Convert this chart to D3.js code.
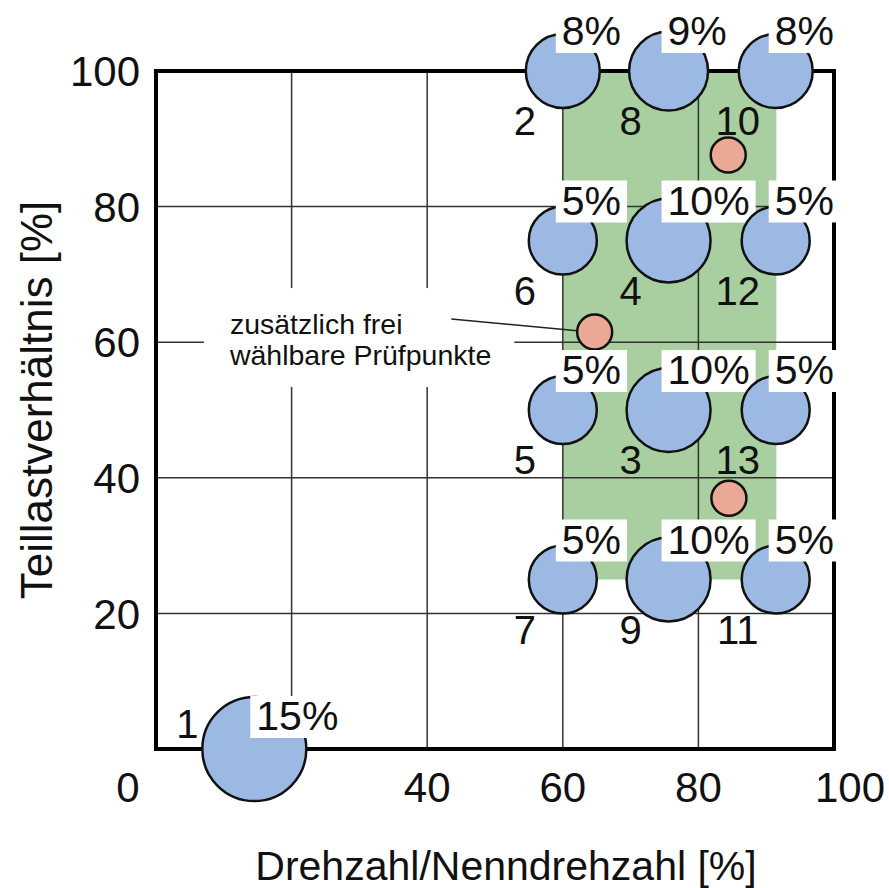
<!DOCTYPE html>
<html>
  <head>
    <meta http-equiv="Content-type" content="text/html; charset=utf-8">
    <title>ESC Prüfzyklus</title>
    <script src="https://d3js.org/d3.v7.min.js"></script>
    <style>
      body { margin: 0; background: #fff; }
      svg text { font-family: "Liberation Sans", Arial, sans-serif; fill: #111; }
    </style>
  </head>
  <body>
    <div id="chart"></div>
    <script type="text/javascript">
      // test modes (ESC): speed in % of rated speed, load in %, weighting in %
      var modes   = [1, 2, 3, 4, 5, 6, 7, 8, 9, 10, 11, 12, 13];
      var speeds  = [14.5, 60, 75.6, 75.6, 60, 60, 60, 75.6, 75.6, 91.4, 91.4, 91.4, 91.4];
      var loads   = [0, 100, 50, 75, 50, 75, 25, 100, 25, 100, 25, 75, 50];
      var weights = [15, 8, 10, 10, 5, 5, 5, 9, 10, 8, 5, 5, 5];

      // extra freely selectable test points
      var extraSpeeds = [64.7, 84.4, 84.5];
      var extraLoads  = [61.5, 87.6, 37.0];

      // control area
      var areaSpeeds = [60, 91.5];
      var areaLoads  = [25, 100];

      var gridTicks  = [20, 40, 60, 80];
      var xTickVals  = [0, 40, 60, 80, 100];
      var yTickVals  = [20, 40, 60, 80, 100];

      var width = 889, height = 888;

      var x = d3.scaleLinear().domain([0, 100]).range([156, 834]);
      var y = d3.scaleLinear().domain([0, 100]).range([749, 71]);
      var r = d3.scaleLinear().domain([5, 8, 10, 15]).range([34, 37, 42, 52]);

      var data = modes.map(function(m, i) {
        return { mode: m, speed: speeds[i], load: loads[i], weight: weights[i] };
      });
      var extra = extraSpeeds.map(function(s, i) { return { speed: s, load: extraLoads[i] }; });

      var svg = d3.select("#chart").append("svg")
        .attr("width", width)
        .attr("height", height);

      svg.append("rect").attr("width", width).attr("height", height).attr("fill", "#fff");

      // green control area
      svg.append("rect")
        .attr("x", x(areaSpeeds[0]))
        .attr("y", y(areaLoads[1]))
        .attr("width", x(areaSpeeds[1]) - x(areaSpeeds[0]))
        .attr("height", y(areaLoads[0]) - y(areaLoads[1]))
        .attr("fill", "#a9cfa1");

      // grid
      svg.append("g").selectAll("line.v")
        .data(gridTicks).enter().append("line")
        .attr("x1", function(d) { return x(d); })
        .attr("x2", function(d) { return x(d); })
        .attr("y1", y(100)).attr("y2", y(0))
        .attr("stroke", "#333").attr("stroke-width", 1.5);
      svg.append("g").selectAll("line.h")
        .data(gridTicks).enter().append("line")
        .attr("y1", function(d) { return y(d); })
        .attr("y2", function(d) { return y(d); })
        .attr("x1", x(0)).attr("x2", x(100))
        .attr("stroke", "#333").attr("stroke-width", 1.5);

      // annotation (white box hides grid behind it)
      var ann = svg.append("g");
      var annText = ann.append("text")
        .attr("x", x(10.9))
        .attr("y", y(61.2))
        .style("font-size", "28.5px");
      annText.append("tspan").attr("x", x(10.9)).text("zusätzlich frei");
      annText.append("tspan").attr("x", x(10.9)).attr("dy", 31).text("wählbare Prüfpunkte");
      var ab = annText.node().getBBox();
      ann.insert("rect", "text")
        .attr("x", ab.x - 25).attr("y", ab.y - 20)
        .attr("width", ab.width + 48).attr("height", ab.height + 36)
        .attr("fill", "#fff");

      // frame
      svg.append("rect")
        .attr("x", x(0)).attr("y", y(100))
        .attr("width", x(100) - x(0)).attr("height", y(0) - y(100))
        .attr("fill", "none").attr("stroke", "#000").attr("stroke-width", 4);

      // leader line to the first extra point
      svg.append("line")
        .attr("x1", ab.x + ab.width - 40).attr("y1", ab.y + 11)
        .attr("x2", x(extra[0].speed) - 4).attr("y2", y(extra[0].load))
        .attr("stroke", "#222").attr("stroke-width", 1.5);

      // extra points
      svg.append("g").selectAll("circle")
        .data(extra).enter().append("circle")
        .attr("cx", function(d) { return x(d.speed); })
        .attr("cy", function(d) { return y(d.load); })
        .attr("r", 17.5)
        .attr("fill", "#eaa995")
        .attr("stroke", "#111").attr("stroke-width", 2.5);

      // mode bubbles
      var g = svg.append("g").selectAll("g.mode")
        .data(data).enter().append("g").attr("class", "mode");

      g.append("circle")
        .attr("cx", function(d) { return x(d.speed); })
        .attr("cy", function(d) { return y(d.load); })
        .attr("r", function(d) { return r(d.weight); })
        .attr("fill", "#9bb9e3")
        .attr("stroke", "#111").attr("stroke-width", 2.5);

      // weighting labels on white boxes
      g.each(function(d) {
        var cx = x(d.speed), cy = y(d.load);
        var grp = d3.select(this);
        var bx = cx - 7, bb = cy - 18;
        if (d.load === 0) { bx = cx - 4; bb = cy - 11; }
        var t = grp.append("text")
          .attr("x", bx + 6)
          .attr("y", bb - 8)
          .style("font-size", "41px")
          .text(d.weight + "%");
        var w = t.node().getComputedTextLength();
        grp.insert("rect", "text")
          .attr("x", bx).attr("y", bb - 42)
          .attr("width", w + 12).attr("height", 42)
          .attr("fill", "#fff");
      });

      // mode numbers
      g.append("text")
        .attr("x", function(d) { return d.load === 0 ? x(d.speed) - 67 : x(d.speed) - 38; })
        .attr("y", function(d) { return d.load === 0 ? y(d.load) - 11 : y(d.load) + 64; })
        .attr("text-anchor", "middle")
        .style("font-size", "40px")
        .text(function(d) { return d.mode; });

      // tick labels
      svg.append("g").selectAll("text")
        .data(xTickVals).enter().append("text")
        .attr("x", function(d) { return x(d) + (d === 0 ? -28 : d === 100 ? 16 : 0); })
        .attr("y", 802)
        .attr("text-anchor", "middle")
        .style("font-size", "42px")
        .text(function(d) { return d; });

      svg.append("g").selectAll("text")
        .data(yTickVals).enter().append("text")
        .attr("x", 140)
        .attr("y", function(d) { return y(d); })
        .attr("dy", "0.36em")
        .attr("text-anchor", "end")
        .style("font-size", "42px")
        .text(function(d) { return d; });

      // axis titles
      svg.append("text")
        .attr("x", 506).attr("y", 880)
        .attr("text-anchor", "middle")
        .style("font-size", "41px")
        .text("Drehzahl/Nenndrehzahl [%]");

      svg.append("text")
        .attr("transform", "translate(52,400) rotate(-90)")
        .attr("text-anchor", "middle")
        .style("font-size", "44px")
        .text("Teillastverhältnis [%]");
    </script>
  </body>
</html>
